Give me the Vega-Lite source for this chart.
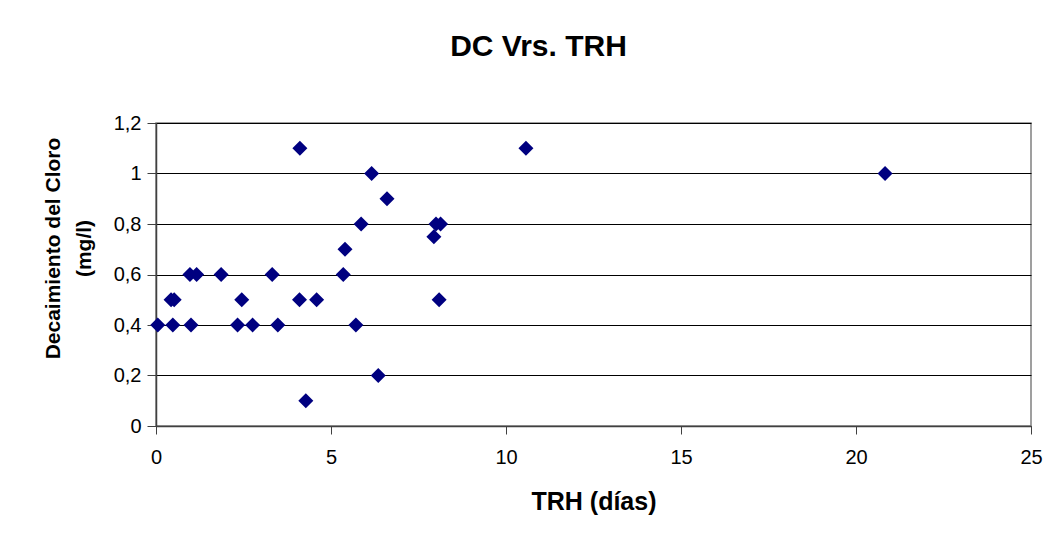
{
  "$schema": "https://vega.github.io/schema/vega-lite/v6.json",
  "width": 875,
  "height": 303,
  "autosize": {"type": "none"},
  "padding": {"left": 156, "top": 123, "right": 23, "bottom": 111},
  "background": "white",
  "title": {
    "text": "DC Vrs. TRH",
    "font": "Liberation Sans",
    "fontSize": 30,
    "fontWeight": "bold",
    "color": "black",
    "anchor": "middle",
    "frame": "group",
    "dx": -55,
    "baseline": "alphabetic",
    "offset": 27
  },
  "config": {
    "view": {"stroke": "#808080", "strokeWidth": 1.5},
    "font": "Liberation Sans"
  },
  "data": {
    "values": [
      {"trh": 0.05, "dc": 0.4},
      {"trh": 0.48, "dc": 0.4},
      {"trh": 1.0, "dc": 0.4},
      {"trh": 2.33, "dc": 0.4},
      {"trh": 2.76, "dc": 0.4},
      {"trh": 3.48, "dc": 0.4},
      {"trh": 5.71, "dc": 0.4},
      {"trh": 0.43, "dc": 0.5},
      {"trh": 0.52, "dc": 0.5},
      {"trh": 2.45, "dc": 0.5},
      {"trh": 4.1, "dc": 0.5},
      {"trh": 4.59, "dc": 0.5},
      {"trh": 8.09, "dc": 0.5},
      {"trh": 0.97, "dc": 0.6},
      {"trh": 1.16, "dc": 0.6},
      {"trh": 1.86, "dc": 0.6},
      {"trh": 3.32, "dc": 0.6},
      {"trh": 5.35, "dc": 0.6},
      {"trh": 5.4, "dc": 0.7},
      {"trh": 5.86, "dc": 0.8},
      {"trh": 8.0, "dc": 0.8},
      {"trh": 8.13, "dc": 0.8},
      {"trh": 7.94, "dc": 0.75},
      {"trh": 6.6, "dc": 0.9},
      {"trh": 6.16, "dc": 1.0},
      {"trh": 20.83, "dc": 1.0},
      {"trh": 4.11, "dc": 1.1},
      {"trh": 10.57, "dc": 1.1},
      {"trh": 6.35, "dc": 0.2},
      {"trh": 4.28, "dc": 0.1}
    ]
  },
  "mark": {"type": "point", "shape": "diamond", "filled": true, "color": "#000080", "size": 225, "opacity": 1},
  "encoding": {
    "x": {
      "field": "trh",
      "type": "quantitative",
      "scale": {"domain": [0, 25], "nice": false, "zero": true},
      "axis": {
        "title": "TRH (días)",
        "values": [0, 5, 10, 15, 20, 25],
        "grid": false,
        "domainColor": "#404040",
        "domainWidth": 1.5,
        "tickColor": "#404040",
        "tickSize": 8,
        "labelFlush": false,
        "labelFont": "Liberation Sans",
        "labelFontSize": 20,
        "labelColor": "black",
        "labelPadding": 13,
        "titleFont": "Liberation Sans",
        "titleFontSize": 25,
        "titleFontWeight": "bold",
        "titleColor": "black",
        "titlePadding": 22
      }
    },
    "y": {
      "field": "dc",
      "type": "quantitative",
      "scale": {"domain": [0, 1.2], "nice": false},
      "axis": {
        "title": ["Decaimiento del Cloro", "(mg/l)"],
        "values": [0, 0.2, 0.4, 0.6, 0.8, 1.0, 1.2],
        "labelExpr": "replace(format(datum.value, '~g'), '.', ',')",
        "grid": true,
        "gridColor": "black",
        "gridWidth": 1,
        "domainColor": "#404040",
        "domainWidth": 1.5,
        "tickColor": "#404040",
        "tickSize": 9,
        "labelFont": "Liberation Sans",
        "labelFontSize": 20,
        "labelColor": "black",
        "labelPadding": 6,
        "titleFont": "Liberation Sans",
        "titleFontSize": 21,
        "titleFontWeight": "bold",
        "titleColor": "black",
        "titleLineHeight": 31,
        "titleX": -93,
        "titleY": 125
      }
    }
  }
}
